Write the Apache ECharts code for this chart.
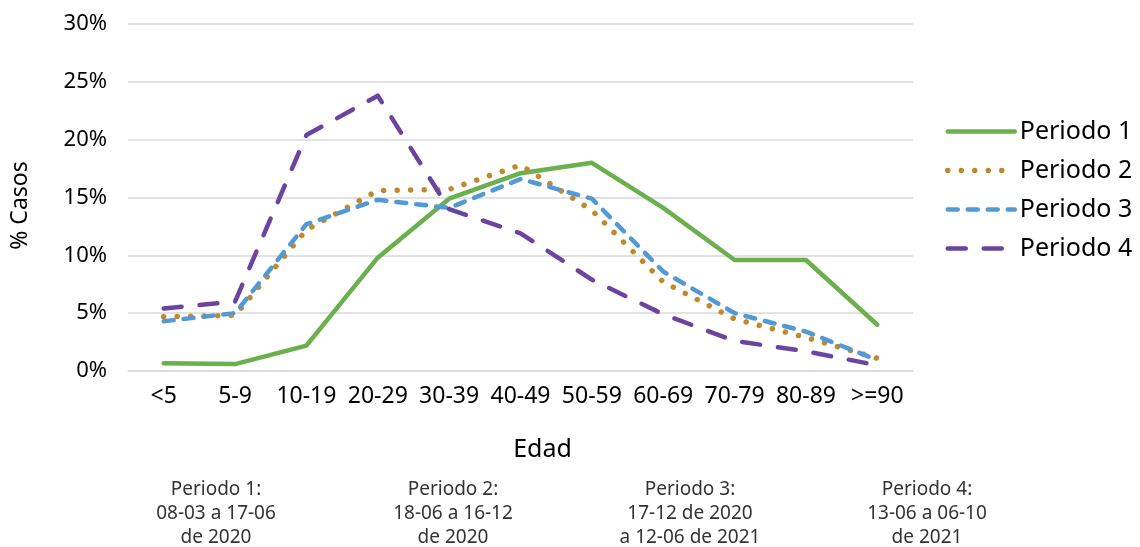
<!DOCTYPE html>
<html><head><meta charset="utf-8">
<script src="https://cdn.jsdelivr.net/npm/echarts@6/dist/echarts.min.js"></script>
<style>html,body{margin:0;padding:0;background:#fff}#c{width:1140px;height:547px}</style>
</head><body><div id="c"></div>
<script>
const categories = ['<5','5-9','10-19','20-29','30-39','40-49','50-59','60-69','70-79','80-89','>=90'];
const periodo1 = [0.67,0.6,2.2,9.8,14.9,17.1,18.0,14.1,9.6,9.6,4.0];
const periodo2 = [4.7,4.8,12.2,15.6,15.7,17.8,13.9,7.7,4.5,2.9,1.1];
const periodo3 = [4.3,5.0,12.7,14.8,14.1,16.6,14.9,8.6,5.0,3.4,0.95];
const periodo4 = [5.4,6.0,20.4,23.8,14.0,11.9,7.9,4.9,2.6,1.7,0.5];
const seriesNames = ['Periodo 1','Periodo 2','Periodo 3','Periodo 4'];
const yTicks = [0,5,10,15,20,25,30];
const notes = [
  'Periodo 1:\n08-03 a 17-06\nde 2020',
  'Periodo 2:\n18-06 a 16-12\nde 2020',
  'Periodo 3:\n17-12 de 2020\na 12-06 de 2021',
  'Periodo 4:\n13-06 a 06-10\nde 2021'
];
const FONT = '"Noto Sans", "Open Sans", sans-serif';
const chart = echarts.init(document.getElementById('c'));
const styles = [
  {color:'#6AB04C', type:'solid', width:4.5},
  {color:'#BF8A2C', type:[0.01,13.5], width:5.5},
  {color:'#529AD6', type:[10,10], width:4.5},
  {color:'#6A44A0', type:[18,18], width:4.5}
];
const data = [periodo1,periodo2,periodo3,periodo4];
const noteX = [216,453,690,927];
chart.setOption({
  animation:false,
  textStyle:{fontFamily:FONT},
  grid:{left:128,right:227,top:24,bottom:176,containLabel:false},
  legend:{
    orient:'vertical', left:945, top:119, padding:0, itemWidth:67, itemHeight:24, itemGap:14,
    textStyle:{fontSize:25,color:'#000',fontFamily:FONT},
    itemStyle:{color:'rgba(0,0,0,0)',opacity:0,borderWidth:0},
    data:seriesNames.map((n,i)=>({
      name:n,
      itemStyle:{color:'rgba(0,0,0,0)',opacity:0,borderWidth:0},
      lineStyle:{color:styles[i].color,width:styles[i].width,type:styles[i].type,cap:'round'}
    }))
  },
  xAxis:{
    type:'category', data:categories, boundaryGap:true,
    axisLine:{lineStyle:{color:'#d9d9d9',width:1.5}}, axisTick:{show:false},
    axisLabel:{interval:0,fontSize:23,color:'#000',margin:14,fontFamily:FONT},
    name:'Edad', nameLocation:'middle', nameGap:66,
    nameTextStyle:{fontSize:25,color:'#000',fontFamily:FONT,padding:[0,0,0,44]}
  },
  yAxis:{
    type:'value', min:yTicks[0], max:yTicks[yTicks.length-1], interval:5,
    axisLine:{show:false}, axisTick:{show:false},
    splitLine:{lineStyle:{color:'#d9d9d9',width:1.5}},
    axisLabel:{formatter:v=>v+'%',fontSize:22,color:'#000',margin:21,fontFamily:FONT},
    name:'% Casos', nameLocation:'middle', nameGap:96,
    nameTextStyle:{fontSize:23,color:'#000',fontFamily:FONT,padding:[0,0,0,-16]}
  },
  series: seriesNames.map((n,i)=>({
    name:n, type:'line', data:data[i], symbol:'none',
    lineStyle:{color:styles[i].color,width:styles[i].width,type:styles[i].type,cap:'round',join:'round'},
    itemStyle:{color:styles[i].color}
  })),
  graphic: notes.map((t,i)=>({
    type:'text', x:noteX[i], y:478,
    style:{text:t, textAlign:'center', textVerticalAlign:'top', font:'19px '+FONT, fill:'#333', lineHeight:24}
  }))
});
</script></body></html>
